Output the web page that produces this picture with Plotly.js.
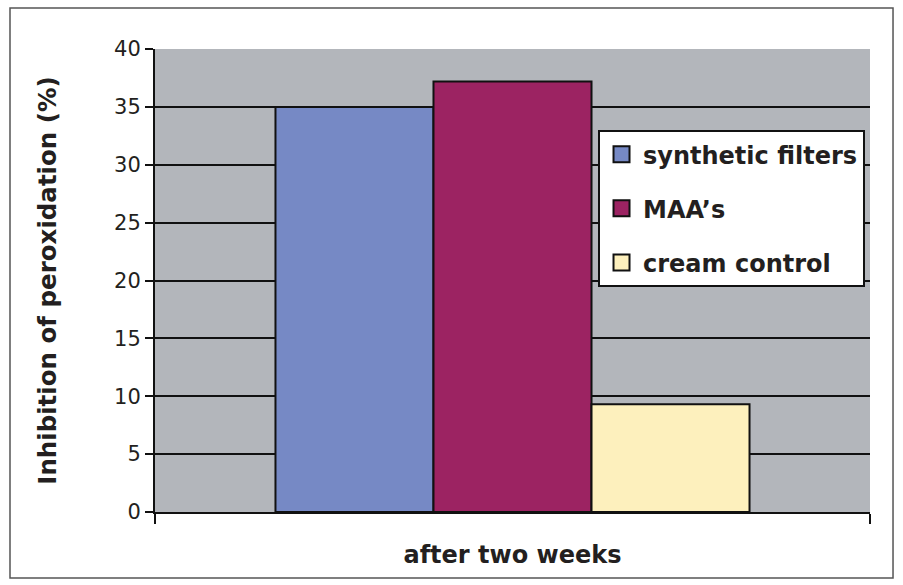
<!DOCTYPE html>
<html><head><meta charset="utf-8">
<script src="https://cdn.plot.ly/plotly-3.0.1.min.js"></script>
<style>body{margin:0;background:#fff}#c{width:903px;height:585px}</style>
</head><body><div id="c"></div>
<script>
const category = ["after two weeks"];
const seriesNames = ["synthetic filters", "MAA\u2019s", "cream control"];
const seriesValues = [[35.0], [37.2], [9.3]];
const seriesColors = ["#7689c5", "#9c2362", "#fdf0bd"];
const yTicks = [0, 5, 10, 15, 20, 25, 30, 35, 40];

const FONT = "DejaVu Sans, sans-serif";
const TXT = "#231f20";
const bars = seriesNames.map((n, i) => ({
  type: "bar", name: n, x: category, y: seriesValues[i],
  showlegend: false,
  marker: {color: seriesColors[i], line: {color: "#111", width: 2}},
  hoverinfo: "none"
}));
// legend entries with larger square swatches
const keys = seriesNames.map((n, i) => ({
  type: "scatter", mode: "markers", name: "<b>" + n + "</b>",
  x: [category[0]], y: [null], legendgroup: "g" + i,
  marker: {symbol: "square", size: 16, color: seriesColors[i], line: {color: "#111", width: 2}},
  hoverinfo: "none"
}));

const layout = {
  width: 903, height: 585,
  margin: {l: 155, r: 33, t: 49, b: 73},
  paper_bgcolor: "#fff", plot_bgcolor: "#b3b6bb",
  barmode: "group", bargap: 0.337, bargroupgap: 0,
  font: {family: FONT, color: TXT},
  xaxis: {
    type: "category", range: [-0.5, 0.5], tickson: "boundaries",
    ticks: "outside", ticklen: 10, tickwidth: 2, tickcolor: "#111",
    showticklabels: false, showgrid: false, showline: true, linecolor: "#111", linewidth: 2,
    title: {text: "<b>after two weeks</b>", font: {size: 24, family: FONT, color: TXT}, standoff: 33}
  },
  yaxis: {
    range: [0, 40], tickvals: yTicks, ticks: "outside", ticklen: 8, tickwidth: 2, tickcolor: "#111",
    tickfont: {size: 21, family: FONT, color: TXT},
    showgrid: true, gridcolor: "#111", gridwidth: 2,
    showline: true, linecolor: "#111", linewidth: 2, zeroline: false,
    title: {text: "<b>Inhibition of peroxidation (%)</b>", font: {size: 24.5, family: FONT, color: TXT}, standoff: 50}
  },
  legend: {
    x: 0.6196, y: 0.825, xanchor: "left", yanchor: "top",
    bgcolor: "#fff", bordercolor: "#111", borderwidth: 2,
    font: {size: 24, family: FONT, color: TXT},
    traceorder: "grouped", tracegroupgap: 20, itemwidth: 33, itemsizing: "trace"
  },
  shapes: [{
    type: "rect", xref: "paper", yref: "paper",
    x0: -0.2028, x1: 1.0322, y0: -0.1425, y1: 1.0886,
    line: {color: "#555", width: 1.5}, fillcolor: "rgba(0,0,0,0)"
  }]
};
Plotly.newPlot("c", bars.concat(keys), layout, {displayModeBar: false, staticPlot: true});
</script></body></html>
